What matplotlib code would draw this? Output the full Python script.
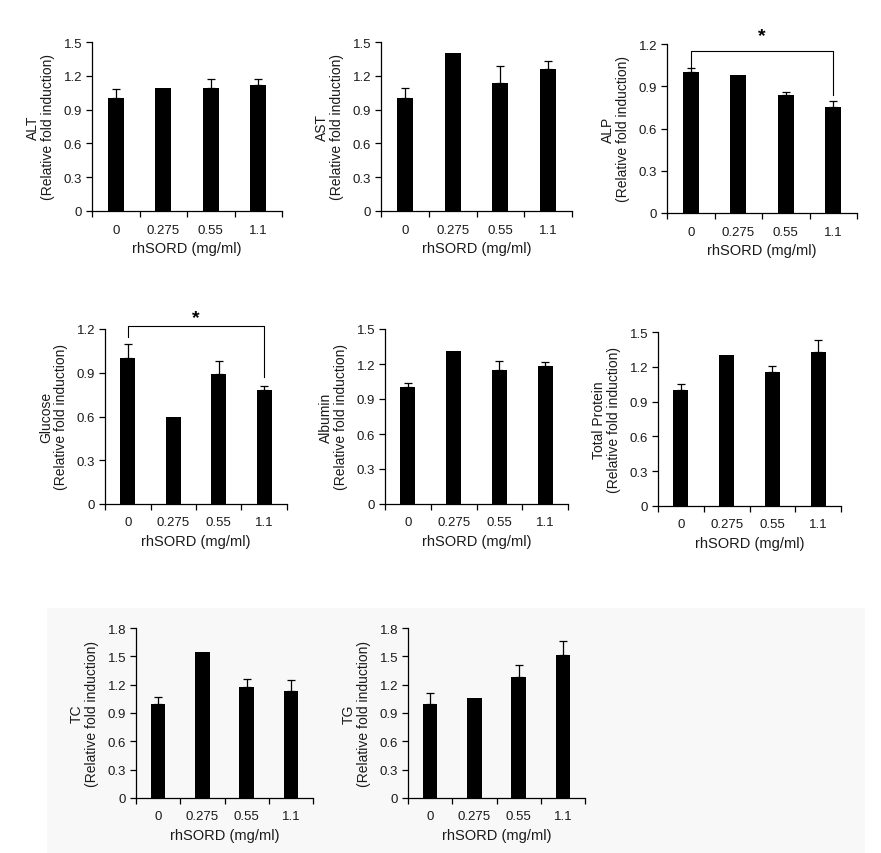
import matplotlib
matplotlib.use("Agg")
import matplotlib.pyplot as plt
import numpy as np
from matplotlib.patches import Rectangle

plt.rcParams['font.family'] = ['Liberation Sans', 'DejaVu Sans']

############## Data #########################################
doses = ['0', '0.275', '0.55', '1.1']

alt_mean = [1.00, 1.09, 1.09, 1.12]
alt_sd = [0.08, 0.0, 0.08, 0.05]
ast_mean = [1.00, 1.40, 1.14, 1.26]
ast_sd = [0.09, 0.0, 0.15, 0.07]
alp_mean = [1.00, 0.98, 0.84, 0.75]
alp_sd = [0.03, 0.0, 0.02, 0.045]
glu_mean = [1.00, 0.60, 0.89, 0.78]
glu_sd = [0.10, 0.0, 0.09, 0.03]
alb_mean = [1.00, 1.31, 1.15, 1.18]
alb_sd = [0.04, 0.0, 0.075, 0.035]
tp_mean = [1.00, 1.30, 1.155, 1.325]
tp_sd = [0.055, 0.0, 0.05, 0.105]
tc_mean = [1.00, 1.55, 1.18, 1.13]
tc_sd = [0.07, 0.0, 0.08, 0.12]
tg_mean = [1.00, 1.06, 1.28, 1.515]
tg_sd = [0.11, 0.0, 0.13, 0.15]

W, H = 881, 854
TXT = '#1a1a1a'

# name, mean, sd, ymax, axes box in pixels (left, top, right, bottom), significance bracket
panels = [
    ('ALT', alt_mean, alt_sd, 1.5, (92, 43, 282, 212), None),
    ('AST', ast_mean, ast_sd, 1.5, (381, 43, 572, 212), None),
    ('ALP', alp_mean, alp_sd, 1.2, (667, 45, 857, 214), (1.15, 1.035, 0.835, 1.26)),
    ('Glucose', glu_mean, glu_sd, 1.2, (105, 330, 287, 505), (1.218, 1.145, 0.87, 1.28)),
    ('Albumin', alb_mean, alb_sd, 1.5, (385, 330, 568, 505), None),
    ('Total Protein', tp_mean, tp_sd, 1.5, (658, 333, 841, 507), None),
    ('TC', tc_mean, tc_sd, 1.8, (136, 629, 313, 799), None),
    ('TG', tg_mean, tg_sd, 1.8, (408, 629, 585, 799), None),
]

fig = plt.figure(figsize=(W / 100, H / 100), dpi=100)
fig.patch.set_facecolor('white')

# faint grey backdrop behind the bottom row (scan artefact in the original)
fig.patches.append(Rectangle((47 / W, 0), (865 - 47) / W, 1 - 609 / H,
                             transform=fig.transFigure, facecolor='#f8f8f8',
                             edgecolor='none', zorder=-5))

x = np.arange(len(doses))

for name, mean, sd, ymax, box, sig in panels:
    l, t, r, b = box
    ax = fig.add_axes([l / W, 1 - b / H, (r - l) / W, (b - t) / H])
    ax.patch.set_alpha(0)

    ax.bar(x, mean, width=0.33, color='black', zorder=2)
    sd = np.array(sd)
    m = sd > 0
    ax.errorbar(x[m], np.array(mean)[m], yerr=[np.zeros(m.sum()), sd[m]],
                fmt='none', ecolor='black', elinewidth=0.9, capsize=3,
                capthick=0.9, zorder=1)

    ax.set_xlim(-0.5, len(doses) - 0.5)
    ax.set_ylim(0, ymax)
    yt = np.arange(0, ymax + 0.01, 0.3)
    ax.set_yticks(yt)
    ax.set_yticklabels(['0' if v == 0 else '%.1f' % v for v in yt])

    # category boundaries get the tick marks, labels sit in the middle
    ax.set_xticks(np.arange(-0.5, len(doses), 1.0))
    ax.set_xticklabels([])
    ax.set_xticks(x, minor=True)
    ax.set_xticklabels(doses, minor=True)
    ax.tick_params(axis='x', which='major', direction='out', length=4, width=0.9)
    ax.tick_params(axis='x', which='minor', length=0, pad=9, labelsize=9.5, labelcolor=TXT)
    ax.tick_params(axis='y', direction='out', length=4, width=0.9, pad=3,
                   labelsize=9.5, labelcolor=TXT)

    for s in ['top', 'right']:
        ax.spines[s].set_visible(False)
    for s in ['left', 'bottom']:
        ax.spines[s].set_linewidth(0.9)

    ax.set_xlabel('rhSORD (mg/ml)', fontsize=10.5, color=TXT, labelpad=4)
    ax.set_ylabel(name + '\n(Relative fold induction)', fontsize=10, color=TXT,
                  labelpad=6, linespacing=1.15)

    if sig is not None:
        yb, yl, yr, ys = sig
        ax.plot([0, 0, 3, 3], [yl, yb, yb, yr], color='black', lw=0.8,
                clip_on=False, zorder=3)
        ax.text(1.5, ys, '*', ha='center', va='center', fontsize=14,
                fontweight='bold', color='black', clip_on=False)

fig.savefig('out.png', dpi=100, facecolor='white')
